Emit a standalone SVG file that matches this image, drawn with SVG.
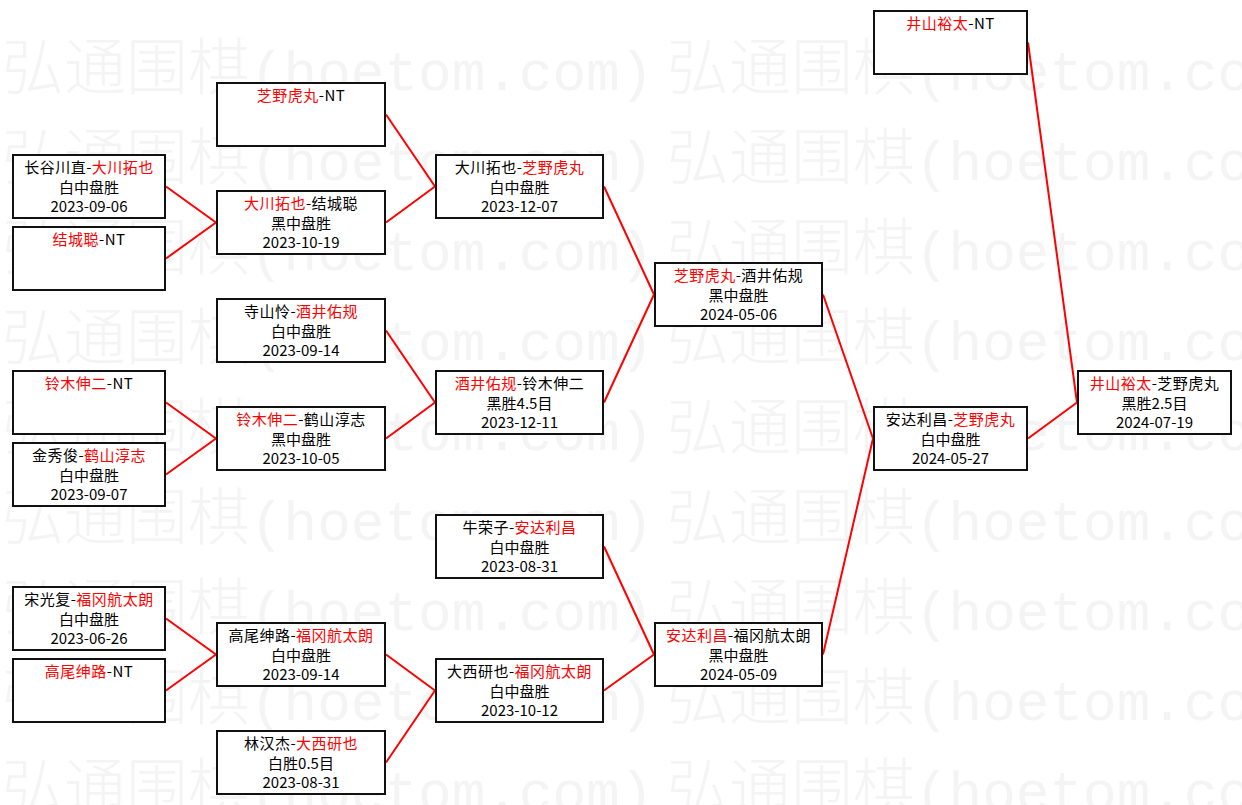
<svg xmlns="http://www.w3.org/2000/svg" width="1242" height="805" viewBox="0 0 1242 805">
<style>
.wm{fill:#f4f4f4;}
.wc{font-family:'Noto Sans CJK SC',sans-serif;font-size:62px;font-weight:300;}
.wa{font-family:'Liberation Mono',monospace;font-size:56px;}
.box{fill:#ffffff;stroke:#111111;stroke-width:2;}
.t{font-family:'Noto Sans CJK SC','Noto Sans CJK JP',sans-serif;font-size:15px;fill:#000000;text-anchor:middle;}
.n{letter-spacing:0.5px;}
.r{fill:#ff0000;}
.con line{stroke:#ff0000;stroke-width:2;fill:none;}
</style>
<rect x="0" y="0" width="1242" height="805" fill="#ffffff"/>
<g id="watermark" class="wm">
<text x="2" y="90"><tspan class="wc">弘通围棋</tspan><tspan class="wa">(hoetom.com)</tspan></text>
<text x="667" y="90"><tspan class="wc">弘通围棋</tspan><tspan class="wa">(hoetom.com)</tspan></text>
<text x="2" y="180"><tspan class="wc">弘通围棋</tspan><tspan class="wa">(hoetom.com)</tspan></text>
<text x="667" y="180"><tspan class="wc">弘通围棋</tspan><tspan class="wa">(hoetom.com)</tspan></text>
<text x="2" y="270"><tspan class="wc">弘通围棋</tspan><tspan class="wa">(hoetom.com)</tspan></text>
<text x="667" y="270"><tspan class="wc">弘通围棋</tspan><tspan class="wa">(hoetom.com)</tspan></text>
<text x="2" y="360"><tspan class="wc">弘通围棋</tspan><tspan class="wa">(hoetom.com)</tspan></text>
<text x="667" y="360"><tspan class="wc">弘通围棋</tspan><tspan class="wa">(hoetom.com)</tspan></text>
<text x="2" y="450"><tspan class="wc">弘通围棋</tspan><tspan class="wa">(hoetom.com)</tspan></text>
<text x="667" y="450"><tspan class="wc">弘通围棋</tspan><tspan class="wa">(hoetom.com)</tspan></text>
<text x="2" y="540"><tspan class="wc">弘通围棋</tspan><tspan class="wa">(hoetom.com)</tspan></text>
<text x="667" y="540"><tspan class="wc">弘通围棋</tspan><tspan class="wa">(hoetom.com)</tspan></text>
<text x="2" y="630"><tspan class="wc">弘通围棋</tspan><tspan class="wa">(hoetom.com)</tspan></text>
<text x="667" y="630"><tspan class="wc">弘通围棋</tspan><tspan class="wa">(hoetom.com)</tspan></text>
<text x="2" y="720"><tspan class="wc">弘通围棋</tspan><tspan class="wa">(hoetom.com)</tspan></text>
<text x="667" y="720"><tspan class="wc">弘通围棋</tspan><tspan class="wa">(hoetom.com)</tspan></text>
<text x="2" y="810"><tspan class="wc">弘通围棋</tspan><tspan class="wa">(hoetom.com)</tspan></text>
<text x="667" y="810"><tspan class="wc">弘通围棋</tspan><tspan class="wa">(hoetom.com)</tspan></text>
</g>
<g id="connectors" class="con">
<line x1="166" y1="186.5" x2="216" y2="222.5"/>
<line x1="166" y1="258.5" x2="216" y2="222.5"/>
<line x1="166" y1="402.5" x2="216" y2="438.5"/>
<line x1="166" y1="474.5" x2="216" y2="438.5"/>
<line x1="166" y1="618.5" x2="216" y2="654.5"/>
<line x1="166" y1="690.5" x2="216" y2="654.5"/>
<line x1="386" y1="114.5" x2="435" y2="186.5"/>
<line x1="386" y1="222.5" x2="435" y2="186.5"/>
<line x1="386" y1="330.5" x2="435" y2="402.5"/>
<line x1="386" y1="438.5" x2="435" y2="402.5"/>
<line x1="386" y1="654.5" x2="435" y2="690.5"/>
<line x1="386" y1="762.5" x2="435" y2="690.5"/>
<line x1="604" y1="186.5" x2="654" y2="294.5"/>
<line x1="604" y1="402.5" x2="654" y2="294.5"/>
<line x1="604" y1="546.5" x2="654" y2="654.5"/>
<line x1="604" y1="690.5" x2="654" y2="654.5"/>
<line x1="823" y1="294.5" x2="873" y2="438.5"/>
<line x1="823" y1="654.5" x2="873" y2="438.5"/>
<line x1="1028" y1="42.5" x2="1077" y2="402.5"/>
<line x1="1028" y1="438.5" x2="1077" y2="402.5"/>
</g>
<g id="a1"><rect class="box" x="13" y="155" width="152" height="63"/>
<text class="t n" x="89" y="173">长谷川直-<tspan class="r">大川拓也</tspan></text>
<text class="t" x="89" y="192.5">白中盘胜</text><text class="t" x="89" y="212">2023-09-06</text></g>
<g id="a2"><rect class="box" x="13" y="227" width="152" height="63"/>
<text class="t n" x="89" y="245"><tspan class="r">结城聪</tspan>-NT</text></g>
<g id="a3"><rect class="box" x="13" y="371" width="152" height="63"/>
<text class="t n" x="89" y="389"><tspan class="r">铃木伸二</tspan>-NT</text></g>
<g id="a4"><rect class="box" x="13" y="443" width="152" height="63"/>
<text class="t n" x="89" y="461">金秀俊-<tspan class="r">鹤山淳志</tspan></text>
<text class="t" x="89" y="480.5">白中盘胜</text><text class="t" x="89" y="500">2023-09-07</text></g>
<g id="a5"><rect class="box" x="13" y="587" width="152" height="63"/>
<text class="t n" x="89" y="605">宋光复-<tspan class="r">福冈航太朗</tspan></text>
<text class="t" x="89" y="624.5">白中盘胜</text><text class="t" x="89" y="644">2023-06-26</text></g>
<g id="a6"><rect class="box" x="13" y="659" width="152" height="63"/>
<text class="t n" x="89" y="677"><tspan class="r">高尾绅路</tspan>-NT</text></g>
<g id="b1"><rect class="box" x="217" y="83" width="168" height="63"/>
<text class="t n" x="301" y="101"><tspan class="r">芝野虎丸</tspan>-NT</text></g>
<g id="b2"><rect class="box" x="217" y="191" width="168" height="63"/>
<text class="t n" x="301" y="209"><tspan class="r">大川拓也</tspan>-结城聪</text>
<text class="t" x="301" y="228.5">黑中盘胜</text><text class="t" x="301" y="248">2023-10-19</text></g>
<g id="b3"><rect class="box" x="217" y="299" width="168" height="63"/>
<text class="t n" x="301" y="317">寺山怜-<tspan class="r">酒井佑规</tspan></text>
<text class="t" x="301" y="336.5">白中盘胜</text><text class="t" x="301" y="356">2023-09-14</text></g>
<g id="b4"><rect class="box" x="217" y="407" width="168" height="63"/>
<text class="t n" x="301" y="425"><tspan class="r">铃木伸二</tspan>-鹤山淳志</text>
<text class="t" x="301" y="444.5">黑中盘胜</text><text class="t" x="301" y="464">2023-10-05</text></g>
<g id="b5"><rect class="box" x="217" y="623" width="168" height="63"/>
<text class="t n" x="301" y="641">高尾绅路-<tspan class="r">福冈航太朗</tspan></text>
<text class="t" x="301" y="660.5">白中盘胜</text><text class="t" x="301" y="680">2023-09-14</text></g>
<g id="b6"><rect class="box" x="217" y="731" width="168" height="63"/>
<text class="t n" x="301" y="749">林汉杰-<tspan class="r">大西研也</tspan></text>
<text class="t" x="301" y="768.5">白胜0.5目</text><text class="t" x="301" y="788">2023-08-31</text></g>
<g id="c1"><rect class="box" x="436" y="155" width="167" height="63"/>
<text class="t n" x="519.5" y="173">大川拓也-<tspan class="r">芝野虎丸</tspan></text>
<text class="t" x="519.5" y="192.5">白中盘胜</text><text class="t" x="519.5" y="212">2023-12-07</text></g>
<g id="c2"><rect class="box" x="436" y="371" width="167" height="63"/>
<text class="t n" x="519.5" y="389"><tspan class="r">酒井佑规</tspan>-铃木伸二</text>
<text class="t" x="519.5" y="408.5">黑胜4.5目</text><text class="t" x="519.5" y="428">2023-12-11</text></g>
<g id="c3"><rect class="box" x="436" y="515" width="167" height="63"/>
<text class="t n" x="519.5" y="533">牛荣子-<tspan class="r">安达利昌</tspan></text>
<text class="t" x="519.5" y="552.5">白中盘胜</text><text class="t" x="519.5" y="572">2023-08-31</text></g>
<g id="c4"><rect class="box" x="436" y="659" width="167" height="63"/>
<text class="t n" x="519.5" y="677">大西研也-<tspan class="r">福冈航太朗</tspan></text>
<text class="t" x="519.5" y="696.5">白中盘胜</text><text class="t" x="519.5" y="716">2023-10-12</text></g>
<g id="d1"><rect class="box" x="655" y="263" width="167" height="63"/>
<text class="t n" x="738.5" y="281"><tspan class="r">芝野虎丸</tspan>-酒井佑规</text>
<text class="t" x="738.5" y="300.5">黑中盘胜</text><text class="t" x="738.5" y="320">2024-05-06</text></g>
<g id="d2"><rect class="box" x="655" y="623" width="167" height="63"/>
<text class="t n" x="738.5" y="641"><tspan class="r">安达利昌</tspan>-福冈航太朗</text>
<text class="t" x="738.5" y="660.5">黑中盘胜</text><text class="t" x="738.5" y="680">2024-05-09</text></g>
<g id="e1"><rect class="box" x="874" y="11" width="153" height="63"/>
<text class="t n" x="950.5" y="29"><tspan class="r">井山裕太</tspan>-NT</text></g>
<g id="e2"><rect class="box" x="874" y="407" width="153" height="63"/>
<text class="t n" x="950.5" y="425">安达利昌-<tspan class="r">芝野虎丸</tspan></text>
<text class="t" x="950.5" y="444.5">白中盘胜</text><text class="t" x="950.5" y="464">2024-05-27</text></g>
<g id="f1"><rect class="box" x="1078" y="371" width="153" height="63"/>
<text class="t n" x="1154.5" y="389"><tspan class="r">井山裕太</tspan>-芝野虎丸</text>
<text class="t" x="1154.5" y="408.5">黑胜2.5目</text><text class="t" x="1154.5" y="428">2024-07-19</text></g>
</svg>
